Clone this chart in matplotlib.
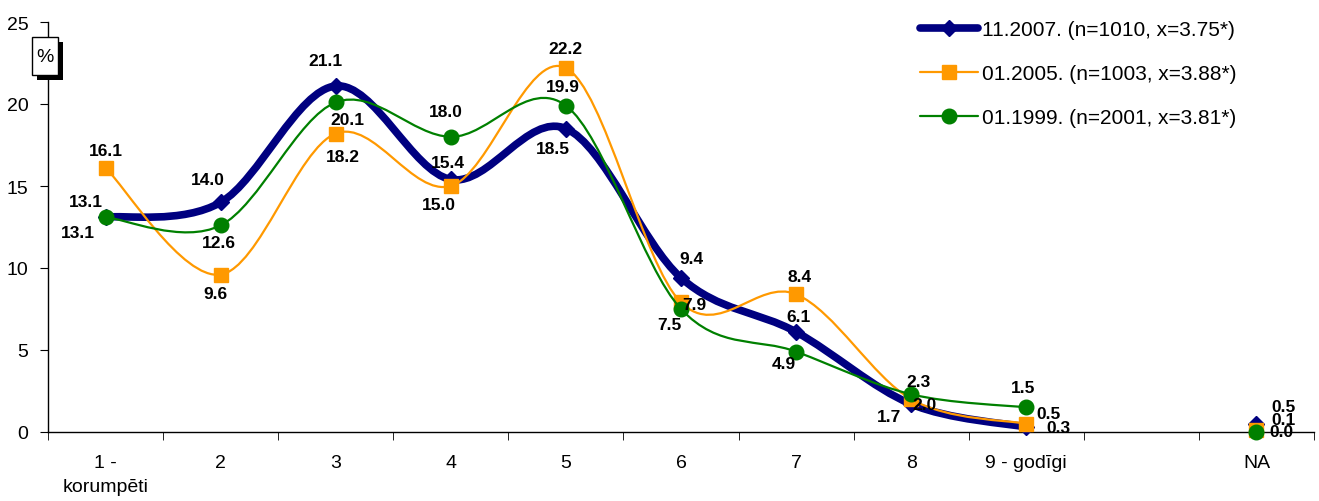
import matplotlib
matplotlib.use("Agg")
import matplotlib.pyplot as plt
import numpy as np
from matplotlib.path import Path
from matplotlib.patches import PathPatch, Rectangle
from matplotlib.lines import Line2D

plt.rcParams['font.family'] = ['Liberation Sans', 'DejaVu Sans']

categories = ["1 -\nkorumpēti", "2", "3", "4", "5", "6", "7", "8", "9 - godīgi", "", "NA"]
series_names = ["11.2007. (n=1010, x=3.75*)",
                "01.2005. (n=1003, x=3.88*)",
                "01.1999. (n=2001, x=3.81*)"]
v2007 = [13.1, 14.0, 21.1, 15.4, 18.5, 9.4, 6.1, 1.7, 0.3]
v2005 = [16.1, 9.6, 18.2, 15.0, 22.2, 7.9, 8.4, 2.0, 0.5]
v1999 = [13.1, 12.6, 20.1, 18.0, 19.9, 7.5, 4.9, 2.3, 1.5]
na_vals = [0.5, 0.1, 0.0]
na_index = 10
y_ticks = [0, 5, 10, 15, 20, 25]

# label offsets in pixels (dx, dy) - styling only
off2007 = [(-20, 16), (-13, 23), (-10, 25), (-3, 17), (-13, -20), (10, 19), (2, 15), (-22, -12), (32, 0)]
off2005 = [(0, 17), (-5, -19), (7, -23), (-12, -18), (0, 19), (13, -2), (3, 18), (13, -5), (22, 10)]
off1999 = [(-28, -15), (-2, -17), (12, -17), (-5, 25), (-3, 19), (-12, -15), (-12, -12), (7, 13), (-3, 20)]
offNA = [(27, 17), (27, 11), (25, 0)]

colors = ["#000080", "#FF9900", "#008000"]
lws = [5.5, 1.6, 1.6]
markers = ["D", "s", "o"]
msizes = [8.5, 10, 10.5]

W, H = 1319, 502
fig = plt.figure(figsize=(W / 100, H / 100), dpi=100)
ax = fig.add_axes([48/W, (H-433)/H, (1314-48)/W, (433-23)/H])


def smooth_path(xs, ys):
    pts = np.column_stack([xs, ys]).astype(float)
    n = len(pts)
    verts = [pts[0]]
    codes = [Path.MOVETO]
    for i in range(n - 1):
        p0 = pts[i - 1] if i > 0 else pts[i]
        p1 = pts[i]
        p2 = pts[i + 1]
        p3 = pts[i + 2] if i + 2 < n else pts[i + 1]
        c1 = p1 + (p2 - p0) / 6.0
        c2 = p2 - (p3 - p1) / 6.0
        verts += [c1, c2, p2]
        codes += [Path.CURVE4] * 3
    return Path(verts, codes)


all_vals = [v2007, v2005, v1999]
all_offs = [off2007, off2005, off1999]
handles = []
for k, vals in enumerate(all_vals):
    xs = np.arange(len(vals))
    z = 2 + k
    patch = PathPatch(smooth_path(xs, vals), fill=False, edgecolor=colors[k],
                      lw=lws[k], capstyle='round', joinstyle='round', zorder=z)
    ax.add_patch(patch)
    ax.plot(xs, vals, linestyle='none', marker=markers[k], ms=msizes[k],
            mfc=colors[k], mec=colors[k], zorder=z + 0.5, clip_on=False)
    ax.plot([na_index], [na_vals[k]], linestyle='none', marker=markers[k], ms=msizes[k],
            mfc=colors[k], mec=colors[k], zorder=z + 0.5, clip_on=False)
    for x, v, (dx, dy) in zip(xs, vals, all_offs[k]):
        ax.annotate(f"{v:.1f}", (x, v), xytext=(dx, dy), textcoords='offset pixels',
                    ha='center', va='center', fontsize=12.5, fontweight='bold', zorder=10)
    ax.annotate(f"{na_vals[k]:.1f}", (na_index, na_vals[k]), xytext=offNA[k],
                textcoords='offset pixels', ha='center', va='center',
                fontsize=12.5, fontweight='bold', zorder=10)
    handles.append(Line2D([0], [0], color=colors[k], lw=lws[k], marker=markers[k],
                          ms=msizes[k], mfc=colors[k], mec=colors[k],
                          solid_capstyle='round'))

ax.set_xlim(-0.5, len(categories) - 0.5)
ax.set_ylim(0, 25)
ax.set_yticks(y_ticks)
ax.set_yticklabels([str(t) for t in y_ticks], fontsize=14)
ax.set_xticks(np.arange(len(categories)))
ax.set_xticklabels(categories, fontsize=14, linespacing=1.5, va='top')
ax.set_xticks(np.arange(len(categories) + 1) - 0.5, minor=True)
ax.tick_params(axis='x', which='major', length=0, pad=16)
ax.tick_params(axis='x', which='minor', length=6, direction='out')
ax.tick_params(axis='y', length=6, direction='out', pad=8)
for s in ['top', 'right']:
    ax.spines[s].set_visible(False)
for s in ['left', 'bottom']:
    ax.spines[s].set_linewidth(1.0)
    ax.spines[s].set_zorder(1)

leg = ax.legend(handles, series_names, loc='upper left', bbox_to_anchor=(920/W, 1 - 21/H),
                bbox_transform=fig.transFigure, frameon=False, fontsize=15,
                handlelength=2.8, handletextpad=0.2, labelspacing=1.2, borderpad=0,
                borderaxespad=0)

# "%" unit box with shadow (figure pixel coordinates)
fig.patches.append(Rectangle((37/W, 1 - 81/H), 26/W, 38/H, transform=fig.transFigure,
                             fc='black', ec='black', lw=0, zorder=20))
fig.patches.append(Rectangle((32/W, 1 - 76/H), 26/W, 38/H, transform=fig.transFigure,
                             fc='white', ec='black', lw=1, zorder=21))
fig.text(45/W, 1 - 57/H, "%", ha='center', va='center', fontsize=14, zorder=22)

fig.savefig("out.png", dpi=100)
